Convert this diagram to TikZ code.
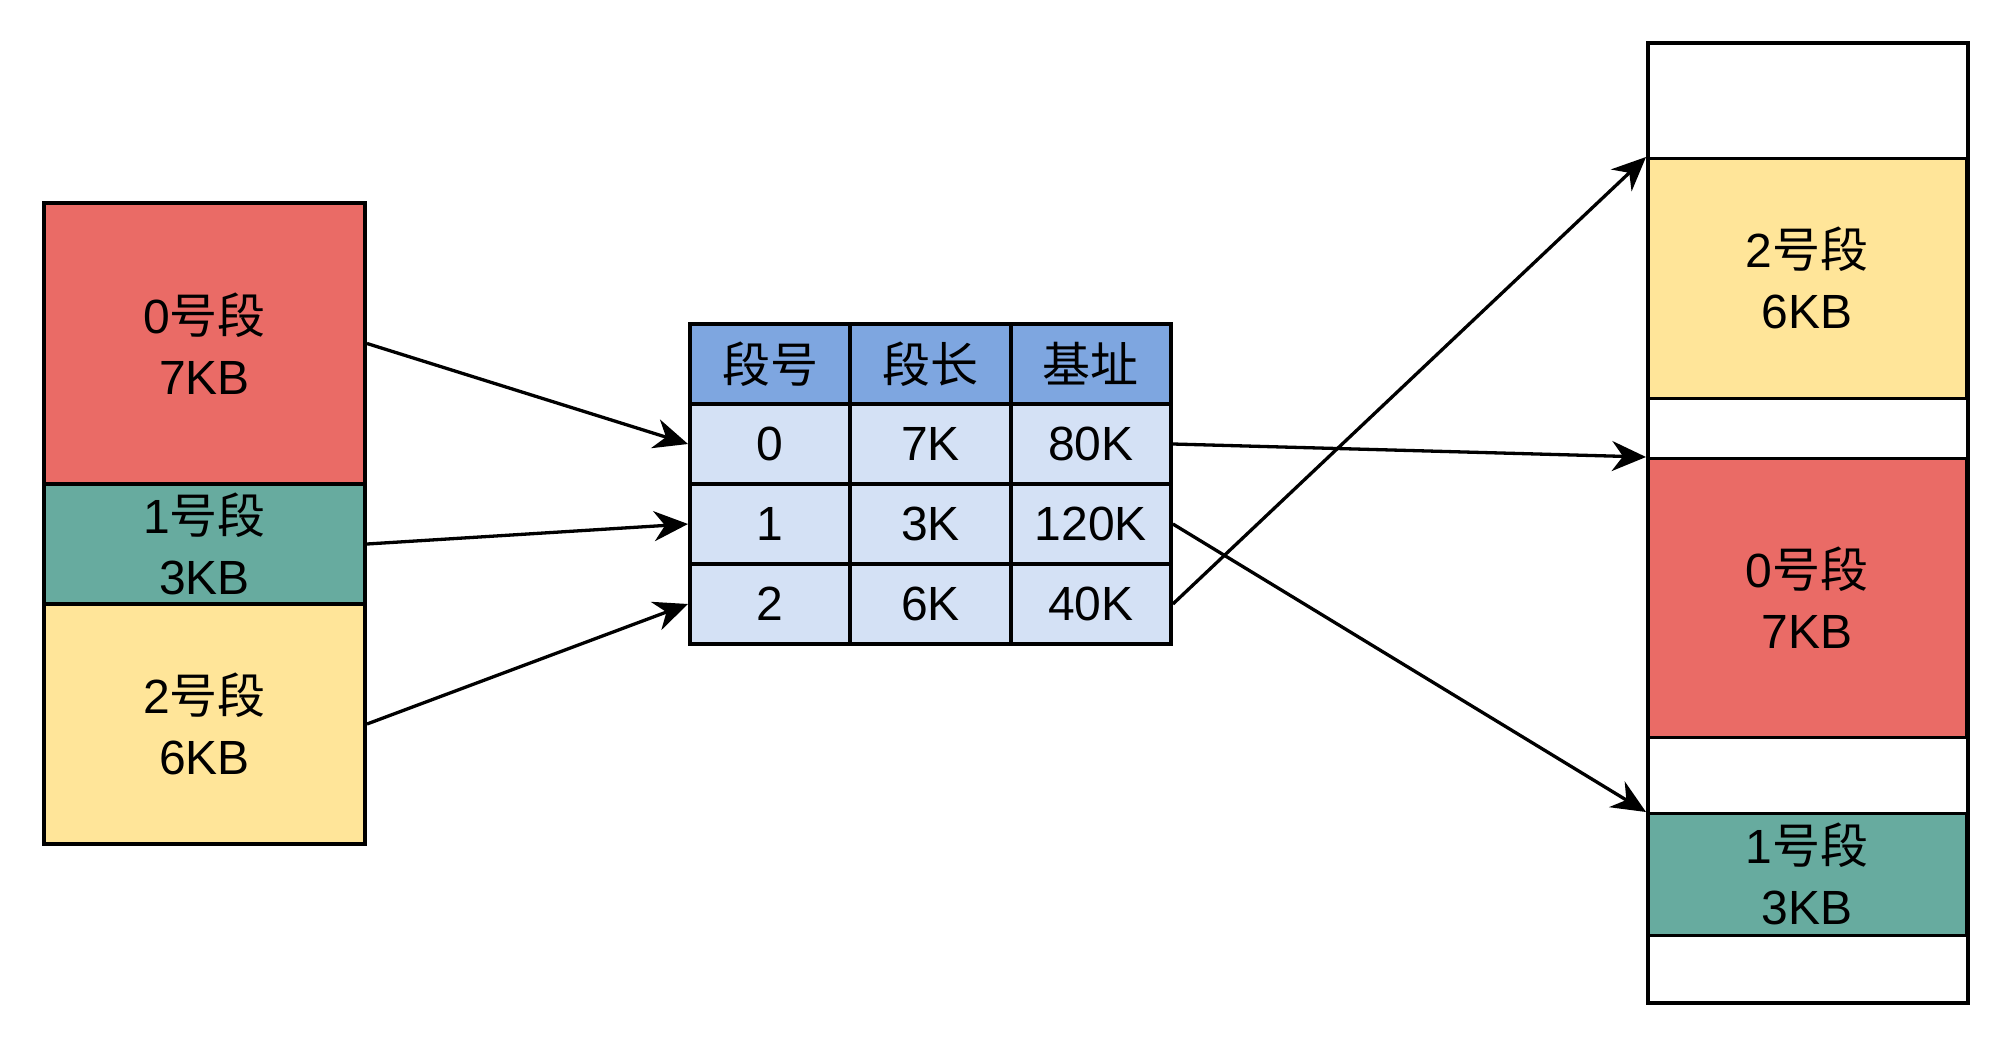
\documentclass[tikz,border=0pt]{standalone}
\usepackage{fontspec}
\setmainfont{Liberation Sans}
\newfontfamily\cjk{Noto Sans CJK SC}
\usetikzlibrary{arrows.meta}
\definecolor{segred}{HTML}{EA6B66}
\definecolor{segteal}{HTML}{67AB9F}
\definecolor{segyel}{HTML}{FFE599}
\definecolor{thead}{HTML}{7EA6E0}
\definecolor{tcell}{HTML}{D4E1F5}
\begin{document}
\begin{tikzpicture}[x=1pt,y=-1pt,
  txt/.style={font=\fontsize{48}{61}\selectfont},
  seg/.style={txt, draw=black, line width=4pt, rectangle, anchor=north west, inner sep=0pt, align=center, minimum width=321pt},
  mseg/.style={txt, draw=black, line width=2.7pt, rectangle, anchor=north west, inner sep=0pt, align=center, minimum width=319pt},
  cell/.style={txt, draw=black, line width=4pt, fill=tcell, rectangle, anchor=north west, inner sep=0pt, minimum width=160.3pt, minimum height=80pt},
  hcell/.style={cell, fill=thead},
  link/.style={line width=3.3pt, -{Stealth[length=34pt,width=30pt,inset=11pt]}}
]
\useasboundingbox (0,0) rectangle (2012,1044);
\fill[white] (0,0) rectangle (2012,1044);

% left: logical segments
\node[seg, fill=segred, minimum height=281pt] (l0) at (42,201) {0{\cjk 号段}\\7KB};
\node[seg, fill=segteal, minimum height=120pt] (l1) at (42,482) {1{\cjk 号段}\\3KB};
\node[seg, fill=segyel, minimum height=240pt] (l2) at (42,602) {2{\cjk 号段}\\6KB};

% table
\node[hcell] (t00) at (688,322) {\cjk 段号};
\node[hcell] (t01) at (848.3,322) {\cjk 段长};
\node[hcell] (t02) at (1008.6,322) {\cjk 基址};
\node[cell] (t10) at (688,402) {0};
\node[cell] (t11) at (848.3,402) {7K};
\node[cell] (t12) at (1008.6,402) {80K};
\node[cell] (t20) at (688,482) {1};
\node[cell] (t21) at (848.3,482) {3K};
\node[cell] (t22) at (1008.6,482) {120K};
\node[cell] (t30) at (688,562) {2};
\node[cell] (t31) at (848.3,562) {6K};
\node[cell] (t32) at (1008.6,562) {40K};

% right: memory
\node[mseg, fill=segyel, minimum height=240pt] (ry) at (1646,157) {2{\cjk 号段}\\6KB};
\node[mseg, fill=segred, minimum height=279pt] (rr) at (1646,457) {0{\cjk 号段}\\7KB};
\node[mseg, fill=segteal, minimum height=122pt] (rt) at (1646,812) {1{\cjk 号段}\\3KB};
\node[draw=black, line width=4pt, rectangle, anchor=north west, inner sep=0pt, minimum width=320pt, minimum height=960pt] (mem) at (1646,41) {};

% connectors
\draw[link] (l0.east) -- (t10.west);
\draw[link] (l1.east) -- (t20.west);
\draw[link] (l2.east) -- (t30.west);
\draw[link] (t12.east) -- (rr.north west);
\draw[link] (t22.east) -- (rt.north west);
\draw[link] (t32.east) -- (ry.north west);
\end{tikzpicture}
\end{document}
